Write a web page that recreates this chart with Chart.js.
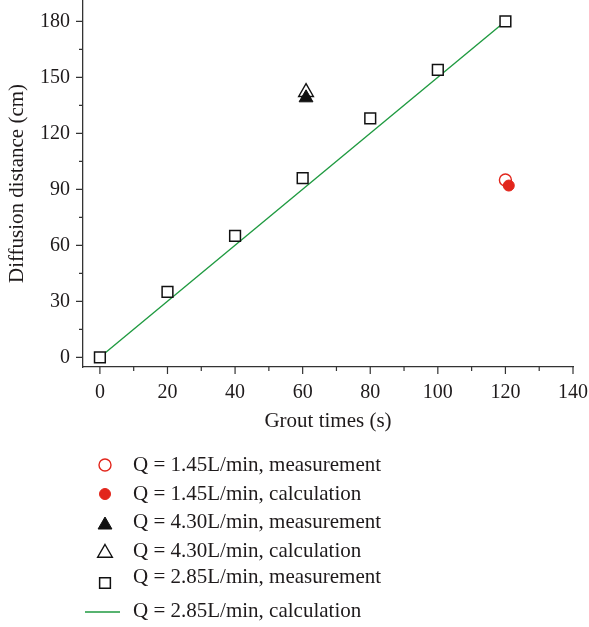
<!DOCTYPE html>
<html>
<head>
<meta charset="utf-8">
<script src="https://cdn.jsdelivr.net/npm/chart.js@4.4.1/dist/chart.umd.min.js"></script>
<style>
  html, body { margin: 0; padding: 0; background: #fff; }
  #chart { display: block; }
</style>
</head>
<body>
<canvas id="chart" width="589" height="627"></canvas>
<script>
// grout diffusion distance vs. grouting time
const q145MeasT = [120];
const q145MeasD = [95];
const q145CalcT = [121];
const q145CalcD = [92];
const q430MeasT = [61];
const q430MeasD = [139];
const q430CalcT = [61];
const q430CalcD = [142];
const q285MeasT = [0, 20, 40, 60, 80, 100, 120];
const q285MeasD = [0, 35, 65, 96, 128, 154, 180];
const q285CalcT = [0, 120];
const q285CalcD = [0, 180];

const xTicks = [0, 20, 40, 60, 80, 100, 120, 140];
const yTicks = [0, 30, 60, 90, 120, 150, 180];

const textColor = '#1e1a1b';
const axisColor = '#333';
const red = '#e2261c';
const green = '#1f9a40';
const serif = 'Liberation Serif';

const pts = (xs, ys) => xs.map((x, i) => ({ x: x, y: ys[i] }));

// legend rows laid out under the plot
const legendTextY = [465, 494, 522, 551, 577, 611];
const legendMarkY = [465, 494, 525, 553, 583, 612];

const legendPlugin = {
  id: 'rowLegend',
  afterDraw(chart) {
    const ctx = chart.ctx;
    ctx.save();
    chart.data.datasets.forEach((ds, i) => {
      const my = legendMarkY[i];
      if (ds.showLine) {
        ctx.strokeStyle = ds.borderColor;
        ctx.lineWidth = 1.5;
        ctx.beginPath();
        ctx.moveTo(85, my);
        ctx.lineTo(120, my);
        ctx.stroke();
      } else {
        ctx.fillStyle = ds.backgroundColor;
        ctx.strokeStyle = ds.borderColor;
        ctx.lineWidth = ds.borderWidth;
        Chart.helpers.drawPoint(ctx, {
          pointStyle: ds.pointStyle,
          radius: ds.pointRadius,
          rotation: 0,
          borderWidth: ds.borderWidth
        }, 105, my);
      }
      ctx.fillStyle = textColor;
      ctx.font = '21px "' + serif + '"';
      ctx.textBaseline = 'middle';
      ctx.textAlign = 'left';
      ctx.fillText(ds.label, 133, legendTextY[i]);
    });
    ctx.restore();
  }
};

// outward tick marks, long on labelled values, short halfway between
const tickPlugin = {
  id: 'axisTicks',
  afterDraw(chart) {
    const { ctx, scales: { x, y }, chartArea } = chart;
    const halves = arr => arr.slice(1).map((v, i) => (v + arr[i]) / 2);
    ctx.save();
    ctx.strokeStyle = axisColor;
    ctx.lineWidth = 1.2;
    ctx.beginPath();
    xTicks.forEach(v => { const p = x.getPixelForValue(v); ctx.moveTo(p, chartArea.bottom); ctx.lineTo(p, chartArea.bottom + 7); });
    halves(xTicks).forEach(v => { const p = x.getPixelForValue(v); ctx.moveTo(p, chartArea.bottom); ctx.lineTo(p, chartArea.bottom + 4); });
    yTicks.forEach(v => { const p = y.getPixelForValue(v); ctx.moveTo(chartArea.left, p); ctx.lineTo(chartArea.left - 7, p); });
    halves(yTicks).forEach(v => { const p = y.getPixelForValue(v); ctx.moveTo(chartArea.left, p); ctx.lineTo(chartArea.left - 4, p); });
    ctx.stroke();
    ctx.restore();
  }
};

const ctx = document.getElementById('chart');
new Chart(ctx, {
  type: 'scatter',
  data: {
    datasets: [
      {
        label: 'Q = 1.45L/min, measurement',
        data: pts(q145MeasT, q145MeasD),
        pointStyle: 'circle', pointRadius: 6, pointHoverRadius: 6,
        backgroundColor: '#fff', borderColor: red, borderWidth: 1.4,
        order: 2
      },
      {
        label: 'Q = 1.45L/min, calculation',
        data: pts(q145CalcT, q145CalcD),
        pointStyle: 'circle', pointRadius: 5.5, pointHoverRadius: 5.5,
        backgroundColor: red, borderColor: red, borderWidth: 1,
        order: 1
      },
      {
        label: 'Q = 4.30L/min, measurement',
        data: pts(q430MeasT, q430MeasD),
        pointStyle: 'triangle', pointRadius: 8, pointHoverRadius: 8,
        backgroundColor: '#111', borderColor: '#111', borderWidth: 1,
        order: 3
      },
      {
        label: 'Q = 4.30L/min, calculation',
        data: pts(q430CalcT, q430CalcD),
        pointStyle: 'triangle', pointRadius: 8.5, pointHoverRadius: 8.5,
        backgroundColor: '#fff', borderColor: '#111', borderWidth: 1.4,
        order: 4
      },
      {
        label: 'Q = 2.85L/min, measurement',
        data: pts(q285MeasT, q285MeasD),
        pointStyle: 'rect', pointRadius: 7.6, pointHoverRadius: 7.6,
        backgroundColor: '#fff', borderColor: '#111', borderWidth: 1.5,
        order: 5
      },
      {
        label: 'Q = 2.85L/min, calculation',
        data: pts(q285CalcT, q285CalcD),
        showLine: true, pointRadius: 0,
        borderColor: green, backgroundColor: green, borderWidth: 1.4,
        order: 6
      }
    ]
  },
  options: {
    responsive: false,
    animation: false,
    layout: { autoPadding: false, padding: { top: 0, right: 16, left: 0, bottom: 190 } },
    plugins: { legend: { display: false }, tooltip: { enabled: false } },
    scales: {
      x: {
        type: 'linear',
        min: -5,
        max: 140,
        afterBuildTicks: s => { s.ticks = xTicks.map(v => ({ value: v })); },
        afterFit: s => { s.height = 70; s.paddingLeft = 0; s.paddingRight = 0; },
        grid: { display: false, drawTicks: false, tickLength: 0 },
        border: { display: true, color: axisColor, width: 1.3 },
        ticks: { color: textColor, padding: 14, maxRotation: 0, font: { family: serif, size: 20 } },
        title: {
          display: true, text: 'Grout times (s)', color: textColor,
          font: { family: serif, size: 21 }, padding: { top: 0, bottom: 3 }
        }
      },
      y: {
        type: 'linear',
        min: -5.2,
        max: 191.4,
        afterBuildTicks: s => { s.ticks = yTicks.map(v => ({ value: v })); },
        afterFit: s => { s.width = 83; s.paddingTop = 0; s.paddingBottom = 0; },
        grid: { display: false, drawTicks: false, tickLength: 0 },
        border: { display: true, color: axisColor, width: 1.3 },
        ticks: { color: textColor, padding: 13, font: { family: serif, size: 20 } },
        title: {
          display: true, text: 'Diffusion distance (cm)', color: textColor,
          font: { family: serif, size: 21 }, padding: { top: 5, bottom: 0 }
        }
      }
    }
  },
  plugins: [tickPlugin, legendPlugin]
});
</script>
</body>
</html>
